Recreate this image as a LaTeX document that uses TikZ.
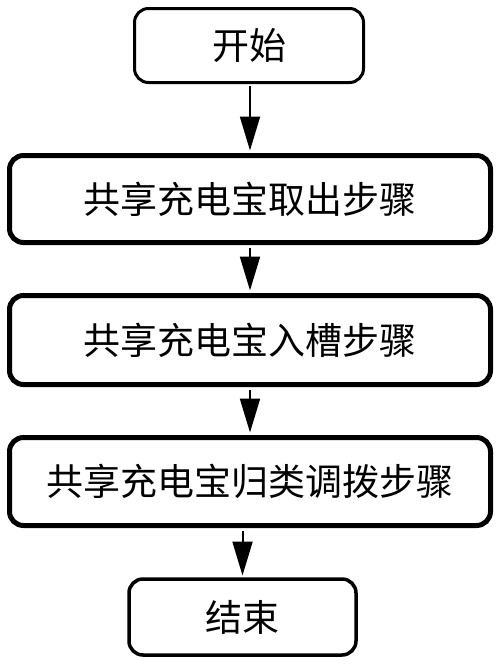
\documentclass[tikz,border=0pt]{standalone}
\usepackage{fontspec}
\newfontfamily\cjk{Noto Sans CJK SC}
\usetikzlibrary{arrows.meta,positioning}

\tikzset{
  stepbox/.style={draw=black, fill=white, rounded corners=14pt, inner sep=0pt,
    font=\cjk\fontsize{37}{42}\selectfont},
  flow/.style={draw=black, line width=2pt, -{Triangle[width=20pt,length=34pt]}}
}

\begin{document}
\begin{tikzpicture}[x=1pt,y=-1pt]
\useasboundingbox (0,0) rectangle (500,664);
\node (start) [stepbox, line width=3pt, minimum width=229pt, minimum height=74pt] at (249,45.5) {开始};
\node (take) [stepbox, line width=5pt, minimum width=481pt, minimum height=87pt] at (250,199) {共享充电宝取出步骤};
\node (slot) [stepbox, line width=5pt, minimum width=481pt, minimum height=89pt] at (250,340) {共享充电宝入槽步骤};
\node (sort) [stepbox, line width=5pt, minimum width=481pt, minimum height=88pt] at (250,481.5) {共享充电宝归类调拨步骤};
\node (stop) [stepbox, line width=3.5pt, minimum width=227pt, minimum height=76pt] at (242.5,617) {结束};
\draw [flow, shorten <=1.5pt, shorten >=2.5pt] (start.south -| take.north) -- (take.north);
\draw [flow, shorten <=2.5pt, shorten >=2.5pt] (take.south) -- (slot.north);
\draw [flow, shorten <=2.5pt, shorten >=2.5pt] (slot.south) -- (sort.north);
\draw [flow, shorten <=2.5pt, shorten >=1.75pt] (sort.south -| stop.north) -- (stop.north);
\end{tikzpicture}
\end{document}
